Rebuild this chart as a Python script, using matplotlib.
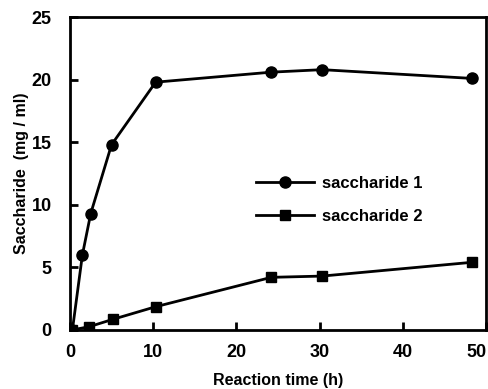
import matplotlib
matplotlib.use("Agg")
import matplotlib.pyplot as plt

plt.rcParams['font.family'] = ['Liberation Sans', 'DejaVu Sans']
plt.rcParams['font.weight'] = 'bold'

# reaction time (h) and saccharide concentration (mg/ml)
t1 = [0.3, 1.5, 2.5, 5.0, 10.3, 24.2, 30.3, 48.3]
s1 = [0.0, 6.0, 9.3, 14.8, 19.8, 20.6, 20.8, 20.1]
t2 = [0.3, 2.3, 5.2, 10.3, 24.2, 30.3, 48.3]
s2 = [0.0, 0.25, 0.85, 1.85, 4.2, 4.3, 5.4]
labels = ["saccharide 1", "saccharide 2"]

fig = plt.figure(figsize=(4.89, 3.89), dpi=100)
ax = fig.add_axes([0.143, 0.152, 0.851, 0.804])

ax.plot(t1, s1, "-o", color="black", lw=2, ms=8, label=labels[0])
ax.plot(t2, s2, "-s", color="black", lw=2, ms=7, label=labels[1])

ax.set_xlim(0, 50)
ax.set_ylim(0, 25)
ax.set_xticks([0, 10, 20, 30, 40, 50])
ax.set_yticks([0, 5, 10, 15, 20, 25])
ax.tick_params(direction="in", length=6, width=2, labelsize=13)
ax.tick_params(axis="x", pad=10)
ax.tick_params(axis="y", pad=13)
for sp in ax.spines.values():
    sp.set_linewidth(2)
# last x label sits left of the spine so it stays inside the figure
ax.get_xticklabels()[-1].set_horizontalalignment("right")

ax.set_xlabel("Reaction time (h)", fontsize=11.5, fontweight="bold", labelpad=9)
ax.set_ylabel("Saccharide  (mg / ml)", fontsize=11.5, fontweight="bold", labelpad=2)

ax.legend(loc="center left", bbox_to_anchor=(0.41, 0.415), frameon=False,
          fontsize=12, handlelength=3.5, handletextpad=0.5, labelspacing=1.05)

plt.savefig("out.png", dpi=100)
